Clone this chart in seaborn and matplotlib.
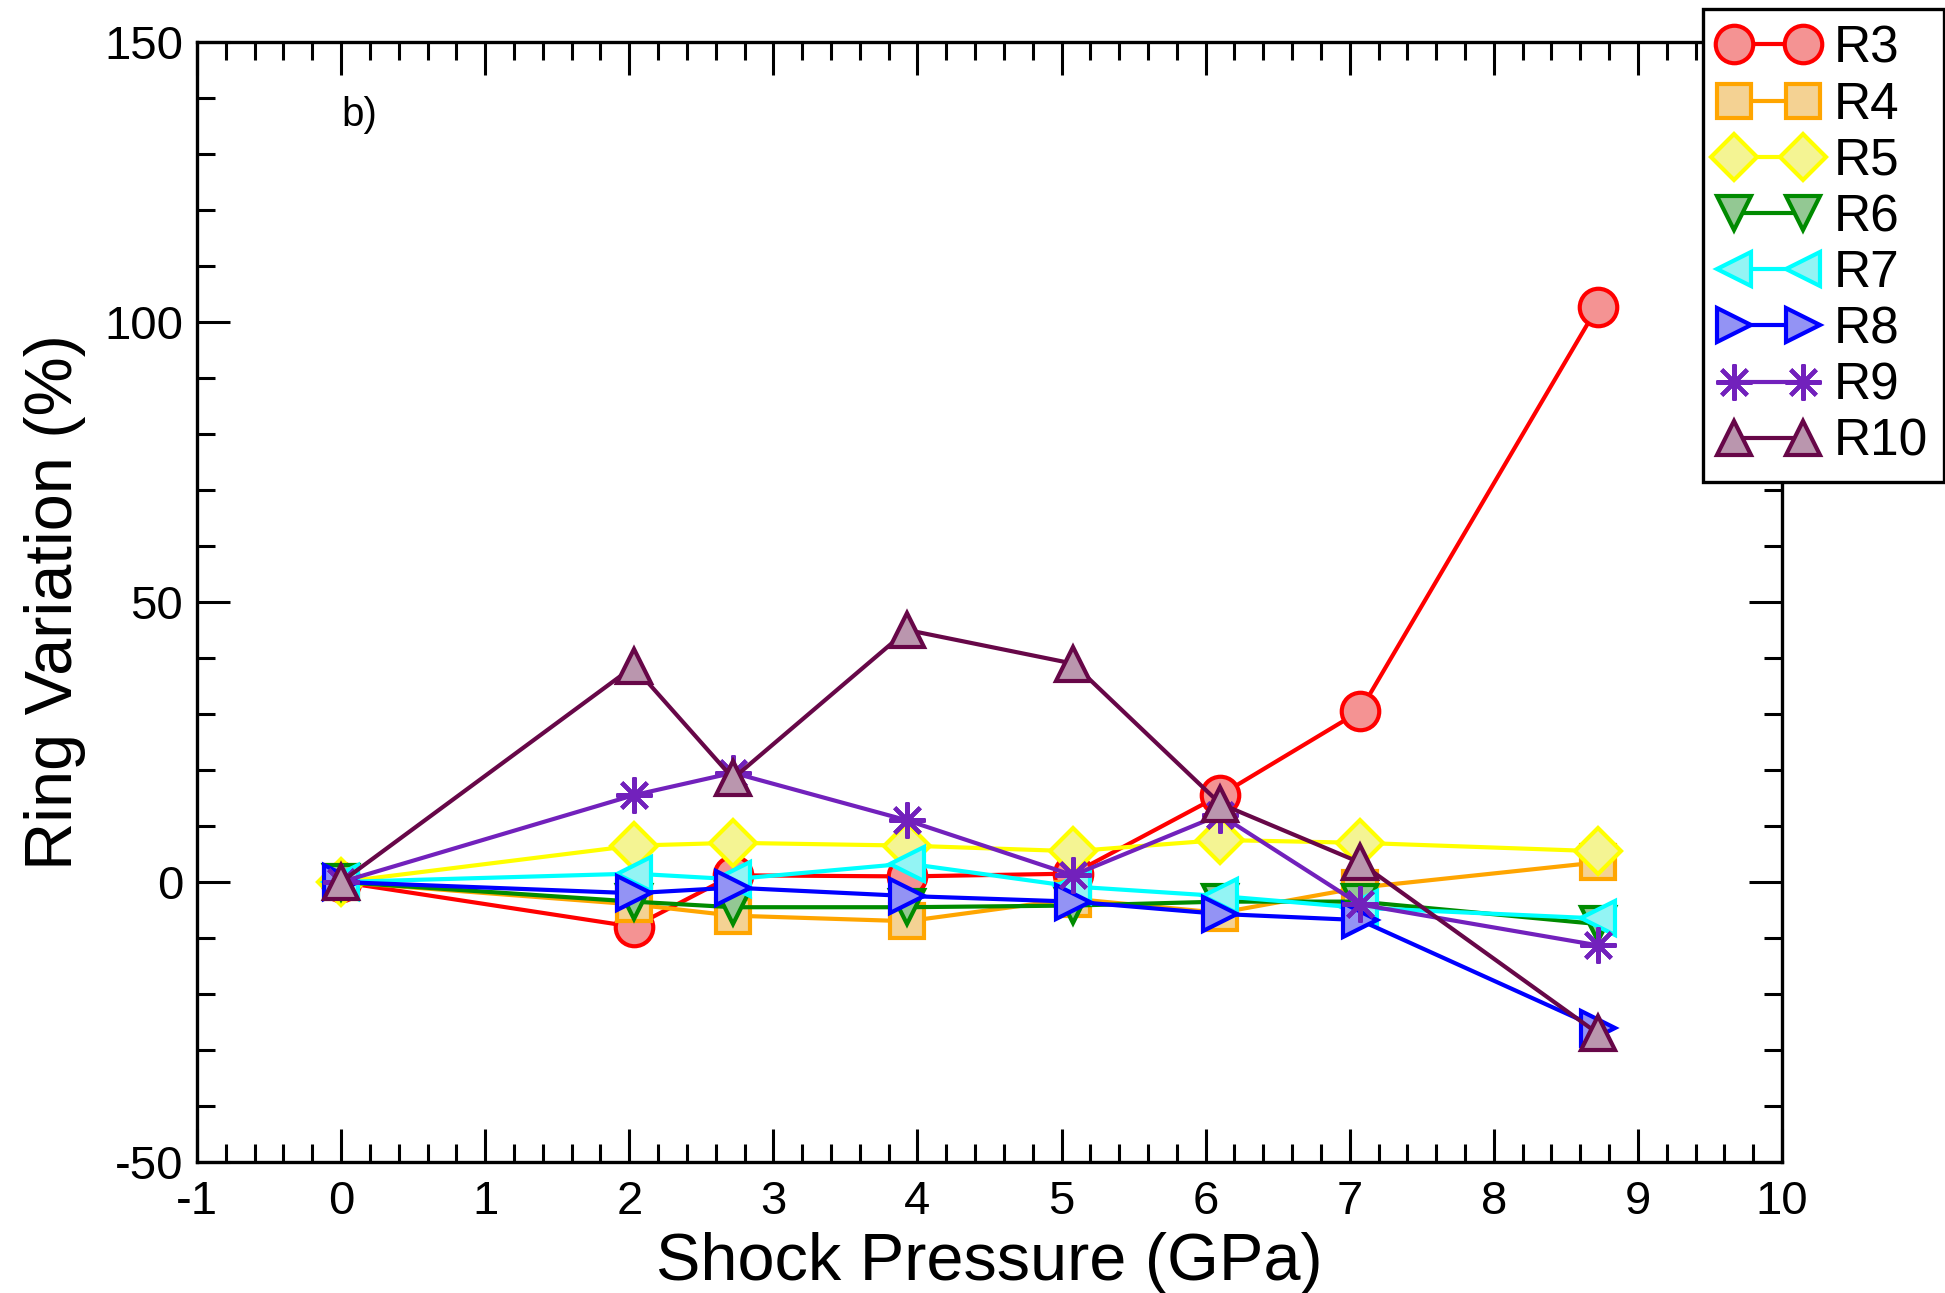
import matplotlib
matplotlib.use("Agg")
import matplotlib.pyplot as plt
import seaborn as sns
import numpy as np
import pandas as pd

pressure = [0.0, 2.03, 2.72, 3.93, 5.08, 6.10, 7.07, 8.72]
R3 = [0.0, -8.0, 1.2, 1.0, 1.5, 15.5, 30.5, 102.7]
R4 = [0.0, -4.0, -6.0, -7.0, -3.0, -5.5, -1.0, 3.5]
R5 = [0.0, 6.5, 7.0, 6.5, 5.5, 7.5, 7.0, 5.5]
R6 = [0.0, -3.5, -4.5, -4.5, -4.2, -3.5, -3.5, -7.5]
R7 = [0.0, 1.5, 0.5, 3.3, -0.8, -2.5, -4.6, -6.5]
R8 = [0.0, -2.0, -1.0, -2.5, -3.5, -5.7, -6.8, -26.0]
R9 = [0.0, 15.5, 19.5, 11.0, 1.2, 12.0, -4.0, -11.3]
R10 = [0.0, 38.5, 18.5, 45.0, 39.0, 14.0, 3.5, -27.0]

names = ["R3", "R4", "R5", "R6", "R7", "R8", "R9", "R10"]
values = [R3, R4, R5, R6, R7, R8, R9, R10]
colors = ["#ff0000", "#ffa500", "#ffff00", "#008b00", "#00ffff", "#0000ff", "#7221bc", "#670748"]
markers = ["o", "s", "D", "v", "<", ">", (8, 2, 0), "^"]
msizes = [27, 25, 23, 24, 24, 24, 26, 24]

def tint(c, f=0.38):
    rgb = np.array(matplotlib.colors.to_rgb(c))
    g = np.array([0.93, 0.93, 0.93])
    return tuple(rgb * f + g * (1 - f))

sns.set_theme(style="ticks")
plt.rcParams["font.family"] = ["Liberation Sans", "DejaVu Sans"]
plt.rcParams["axes.unicode_minus"] = False
plt.rcParams["xtick.direction"] = "in"
plt.rcParams["ytick.direction"] = "in"
plt.rcParams["text.color"] = "black"
plt.rcParams["axes.labelcolor"] = "black"
plt.rcParams["xtick.color"] = "black"
plt.rcParams["ytick.color"] = "black"

fig = plt.figure(figsize=(19.45, 12.93), dpi=100)
ax = fig.add_axes([0.1013, 0.1013, 0.8149, 0.8662])

for name, vals, c, m, ms in zip(names, values, colors, markers, msizes):
    df = pd.DataFrame({"x": pressure, "y": vals})
    sns.lineplot(data=df, x="x", y="y", ax=ax, color=c, linewidth=3.0,
                 marker=m, markersize=ms,
                 markerfacecolor=tint(c), markeredgecolor=c, markeredgewidth=3.0,
                 label=name, sort=False, estimator=None)

ax.set_xlim(-1, 10)
ax.set_ylim(-50, 150)
ax.set_xticks(np.arange(-1, 11, 1))
ax.set_yticks(np.arange(-50, 151, 50))
ax.set_xticks(np.arange(-1, 10.01, 0.2), minor=True)
ax.set_yticks(np.arange(-50, 150.01, 10), minor=True)
ax.tick_params(which="both", top=True, right=True, direction="in", width=2.2, labelsize=34,
               colors="black", labelcolor="black")
ax.tick_params(which="major", length=24)
ax.tick_params(axis="x", which="major", pad=13)
ax.tick_params(axis="y", which="major", pad=10)
ax.tick_params(which="minor", length=13)
for s in ax.spines.values():
    s.set_linewidth(2.4)
    s.set_color("black")
    s.set_visible(True)

ax.set_xlabel("Shock Pressure (GPa)", fontsize=48, labelpad=6, color="black")
ax.set_ylabel("Ring Variation (%)", fontsize=48, labelpad=13, color="black")
ax.text(0.0, 137, "b)", fontsize=29, va="center", ha="left", color="black")

leg = ax.legend(loc="upper left", bbox_to_anchor=(0.8756, 0.993), bbox_transform=fig.transFigure,
                fontsize=37, numpoints=2, handlelength=1.95, handletextpad=0.3,
                labelspacing=0.14, borderpad=0.3, borderaxespad=0, frameon=True,
                fancybox=False, framealpha=1, edgecolor="black", labelcolor="black")
leg.get_frame().set_linewidth(2.4)

fig.savefig("out.png", dpi=100)
